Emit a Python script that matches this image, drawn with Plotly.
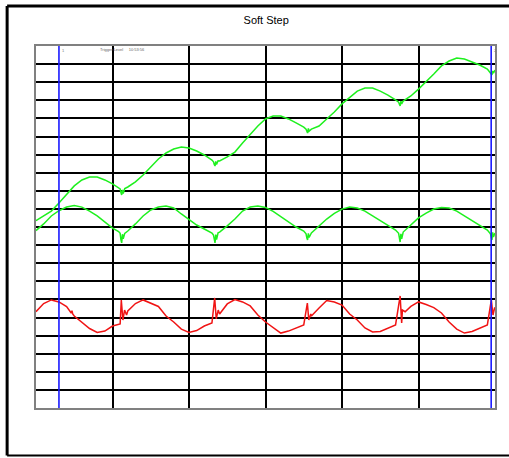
import plotly.graph_objects as go

# Time base (ms) and three recorded channels (V)
t_ch1 = [0, 10, 20, 30, 40, 50, 60, 70, 80, 90, 100, 108, 110, 111, 112, 113, 114, 116, 120,
         130, 140, 150, 160, 170, 180, 190, 200, 210, 220, 230, 232, 233, 234, 235, 236, 238, 240,
         250, 260, 270, 280, 290, 300, 310, 320, 330, 340, 350, 353, 354, 355, 356, 357, 360,
         370, 380, 390, 400, 410, 420, 430, 440, 450, 460, 470, 474, 475, 476, 477, 478, 480,
         490, 500, 510, 520, 530, 540, 550, 560, 570, 580, 590, 594, 595, 596, 597, 598, 600]
v_ch1 = [0.35, 0.61, 0.88, 1.33, 1.82, 2.27, 2.60, 2.76, 2.76, 2.60, 2.38, 2.18, 2.10, 1.90, 1.77, 2.05, 1.85, 2.12, 2.21,
         2.49, 2.87, 3.31, 3.76, 4.09, 4.31, 4.42, 4.36, 4.20, 3.98, 3.70, 3.60, 3.45, 3.37, 3.62, 3.45, 3.66, 3.65,
         3.87, 4.14, 4.64, 5.14, 5.58, 5.97, 6.13, 6.13, 5.97, 5.75, 5.52, 5.40, 5.28, 5.19, 5.45, 5.30, 5.41,
         5.58, 5.97, 6.35, 6.80, 7.18, 7.51, 7.68, 7.68, 7.51, 7.29, 7.02, 6.90, 6.78, 6.69, 6.95, 6.80, 6.96,
         7.24, 7.62, 8.01, 8.45, 8.90, 9.17, 9.34, 9.28, 9.12, 8.95, 8.73, 8.55, 8.45, 8.40, 8.62, 8.50, 8.67]

t_ch2 = [0, 10, 20, 30, 40, 50, 60, 70, 80, 90, 100, 108, 110, 111, 112, 113, 114, 116, 120,
         130, 140, 150, 160, 170, 180, 190, 200, 210, 220, 230, 232, 233, 234, 235, 236, 238, 240,
         250, 260, 270, 280, 290, 300, 310, 320, 330, 340, 350, 353, 354, 355, 356, 357, 360,
         370, 380, 390, 400, 410, 420, 430, 440, 450, 460, 470, 474, 475, 476, 477, 478, 480,
         490, 500, 510, 520, 530, 540, 550, 560, 570, 580, 590, 594, 595, 596, 597, 598, 600]
v_ch2 = [-0.20, 0.17, 0.61, 0.90, 1.10, 1.19, 1.10, 0.88, 0.61, 0.28, -0.06, -0.25, -0.35, -0.70, -0.88, -0.40, -0.65, -0.35, -0.22,
         0.17, 0.61, 0.94, 1.10, 1.16, 1.05, 0.72, 0.39, 0.11, -0.11, -0.33, -0.45, -0.75, -0.88, -0.42, -0.70, -0.32, -0.28,
         0.06, 0.44, 0.88, 1.10, 1.16, 1.08, 0.86, 0.58, 0.28, 0.00, -0.22, -0.38, -0.60, -0.72, -0.35, -0.58, -0.33,
         0.06, 0.44, 0.75, 0.99, 1.10, 1.05, 0.88, 0.61, 0.33, 0.06, -0.17, -0.35, -0.70, -0.83, -0.38, -0.66, -0.28,
         0.11, 0.50, 0.77, 0.99, 1.08, 1.05, 0.88, 0.61, 0.33, 0.06, -0.17, -0.38, -0.62, -0.72, -0.30, -0.55, -0.33]

t_ch3 = [0, 10, 20, 30, 40, 44, 46, 47, 48, 50, 60, 70, 80, 90, 100, 110, 111.5, 113.6, 115.8, 118.4, 120,
         130, 140, 150, 160, 170, 180, 190, 200, 210, 220, 230, 233.6, 235.6, 238.2, 240,
         250, 260, 270, 280, 290, 300, 310, 320, 330, 340, 350, 354.7, 356.6, 359.2, 360,
         370, 380, 390, 400, 410, 420, 430, 440, 450, 460, 470, 476, 478, 479, 482.5,
         490, 500, 510, 520, 530, 540, 550, 560, 570, 580, 590, 595.2, 597.4, 599.6, 600]
v_ch3 = [-4.68, -4.23, -4.03, -4.14, -4.40, -4.62, -4.75, -4.62, -4.80, -4.92, -5.25, -5.61, -5.83, -5.75, -5.47, -5.36, -4.03, -5.14, -4.59, -4.86, -4.64,
         -4.23, -4.03, -4.20, -4.39, -4.92, -5.25, -5.64, -5.83, -5.72, -5.47, -5.30, -3.92, -5.08, -4.59, -4.81,
         -4.25, -4.01, -4.14, -4.36, -4.86, -5.25, -5.58, -5.86, -5.75, -5.58, -5.41, -4.20, -5.14, -4.80, -4.92,
         -4.48, -4.06, -4.14, -4.31, -4.81, -5.14, -5.58, -5.80, -5.77, -5.61, -5.41, -3.81, -5.30, -4.59, -4.68,
         -4.39, -4.14, -4.28, -4.45, -4.75, -5.25, -5.64, -5.86, -5.77, -5.61, -5.41, -4.03, -4.86, -4.44, -4.60]

cursor_times = [30, 595]
cursor_labels = ["1", "2"]
title_text = "Soft Step"
header_text = "Trigger:Level     10:53:56"

GREEN = "#1ef01e"
RED = "#f01414"
BLUE = "#1a1aff"

fig = go.Figure()
for t, v, c in [(t_ch1, v_ch1, GREEN), (t_ch2, v_ch2, GREEN), (t_ch3, v_ch3, RED)]:
    fig.add_trace(go.Scatter(x=t, y=v, mode="lines", line=dict(color=c, width=1.5),
                             showlegend=False, hoverinfo="skip"))

# Cursor markers
for ct, lbl in zip(cursor_times, cursor_labels):
    fig.add_shape(type="line", xref="x", yref="paper", x0=ct, x1=ct, y0=0, y1=1,
                  line=dict(color=BLUE, width=1.6), layer="above")
    fig.add_annotation(x=ct, y=1, xref="x", yref="paper", text=lbl, showarrow=False,
                       xanchor="left", yanchor="top", xshift=1,
                       font=dict(size=4, color="#777777", family="Liberation Sans"))

fig.add_annotation(x=0.135, y=1, xref="paper", yref="paper", text=header_text, showarrow=False,
                   xanchor="left", yanchor="top", yshift=1,
                   font=dict(size=4, color="#666666", family="Liberation Sans"))

# Outer frame of the window
fx0, fy0, fy1 = -0.0629, -0.1315, 1.1105
for x0, y0, x1, y1, w in [(fx0, fy0, fx0, fy1, 3), (fx0, fy1, 1.05, fy1, 3), (fx0, fy0, 1.05, fy0, 2)]:
    fig.add_shape(type="line", xref="paper", yref="paper", x0=x0, y0=y0, x1=x1, y1=y1,
                  line=dict(color="black", width=w))

axis_common = dict(showticklabels=False, ticks="", showgrid=True, gridcolor="black",
                   gridwidth=1.5, zeroline=False, showline=True, linecolor="#808080",
                   linewidth=2, mirror=True, fixedrange=True)

fig.update_layout(
    width=509, height=458,
    margin=dict(l=36, r=12, t=46, b=50),
    paper_bgcolor="white", plot_bgcolor="white",
    title=dict(text=title_text, x=0.523, xanchor="center", y=0.955, yanchor="middle",
               font=dict(size=11, color="black", family="Liberation Sans")),
    xaxis=dict(range=[0, 600], dtick=100, tick0=0, **axis_common),
    yaxis=dict(range=[-10, 10], dtick=1, tick0=0, **axis_common),
)

fig.write_html("out.html")
